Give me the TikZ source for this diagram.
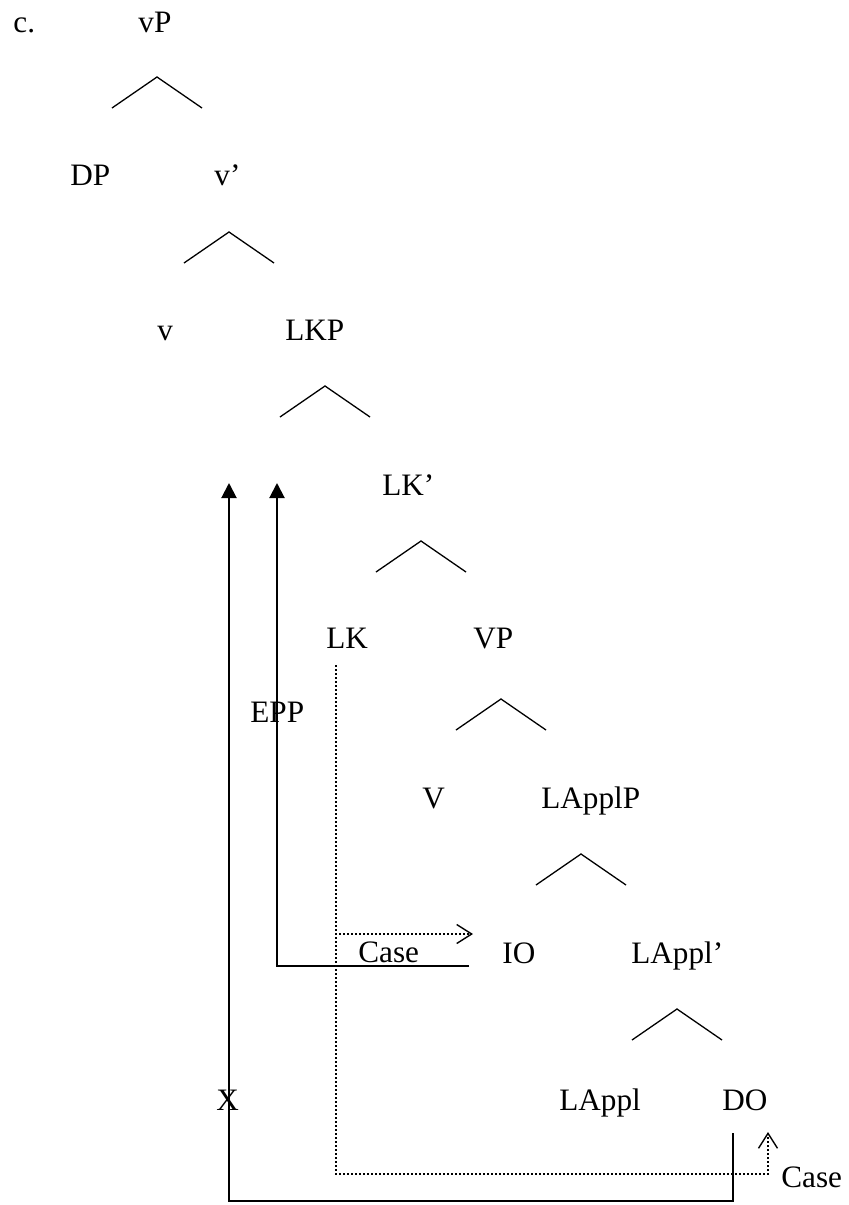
\documentclass[tikz,border=0pt]{standalone}
\usepackage{fontspec}
\setmainfont{Liberation Serif}
\usetikzlibrary{arrows.meta}

\begin{document}
\begin{tikzpicture}[
    x=0.5pt, y=-0.5pt,
    font=\fontsize{15.6}{18}\selectfont,
    cat/.style={anchor=base west, inner sep=0pt},
    roof/.style={line width=0.65pt},
    move/.style={-{Triangle[length=7.5pt,width=7.5pt]}, line width=1pt},
    casefl/.style={-{Straight Barb[length=7.5pt,width=9.5pt,line width=0.7pt]},
        line width=0.8pt, dash pattern=on 0.8pt off 1.2pt}
]
\useasboundingbox (0,0) rectangle (848,1205);

% --------------------------------------------------------------------------
% Category labels, row by row.
% --------------------------------------------------------------------------
\node[cat] (ex) at (13,32) {c.};
\node[cat] (vP) at (138,32) {vP};

\node[cat] (DP) at (70,185) {DP};
\node[cat] (vbar) at (214,185) {v’};

\node[cat] (v) at (157,340) {v};
\node[cat] (LKP) at (285,340) {LKP};

\node[cat] (LKbar) at (382,495) {LK’};

\node[cat] (LK) at (326,648) {LK};
\node[cat] (VP) at (473,648) {VP};
\node[cat] (epp) at (250,722) {EPP};

\node[cat] (V) at (422,808) {V};
\node[cat] (LApplP) at (541,808) {LApplP};

\node[cat] (caseIO) at (358,962) {Case};
\node[cat] (IO) at (502,963) {IO};
\node[cat] (LApplbar) at (631,963) {LAppl’};

\node[cat] (X) at (216,1110) {X};
\node[cat] (LAppl) at (559,1110) {LAppl};
\node[cat] (DO) at (722,1110) {DO};
\node[cat] (caseDO) at (781,1187) {Case};

% Roofs under each projection.
\foreach \ax/\ay in {157/77, 229/232, 325/386, 421/541, 501/699, 581/854, 677/1009}
    \draw[roof] ({\ax-45},{\ay+31}) -- (\ax,\ay) -- ({\ax+45},{\ay+31});

% --------------------------------------------------------------------------
% Movement paths (EPP) and Case assignment.
% --------------------------------------------------------------------------
\coordinate (eppTop) at (277,483);
\coordinate (eppFoot) at (277,966);
\coordinate (ioEnd) at (469,966);
\draw[move] (ioEnd) -- (eppFoot) -- (eppTop);

\coordinate (xTop) at (229,483);
\coordinate (xFoot) at (229,1201);
\coordinate (doFoot) at (733,1201);
\coordinate (doTop) at (733,1133);
\draw[move] (doTop) -- (doFoot) -- (xFoot) -- (xTop);

% Dotted: LK assigns Case to IO and DO.
\coordinate (lkFoot) at (336,665);
\coordinate (ioCase) at (473,934);
\coordinate (caseBend) at (768,1174);
\coordinate (doCase) at (768,1132);
\draw[casefl] (lkFoot) |- (ioCase);
\draw[casefl] (lkFoot) |- (caseBend) -- (doCase);

\end{tikzpicture}
\end{document}
